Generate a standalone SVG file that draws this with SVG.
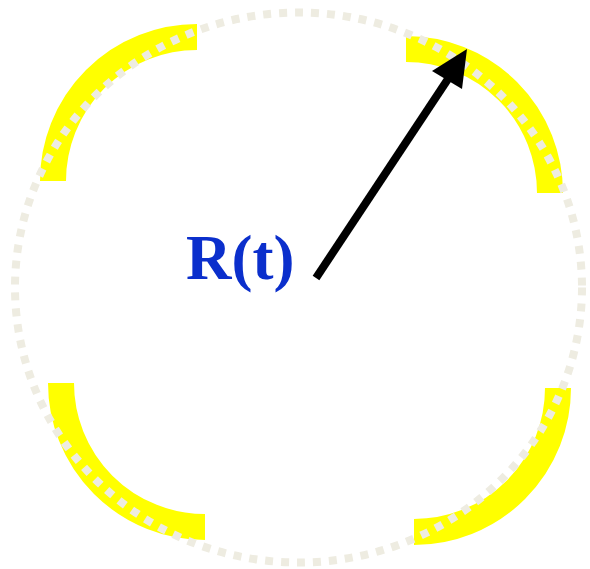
<svg xmlns="http://www.w3.org/2000/svg" width="590" height="569" viewBox="0 0 590 569">
<style>
.arc{fill:none;stroke:#FFFF00;stroke-width:26;stroke-linecap:butt}
.orbit{fill:none;stroke:#EEECE1;stroke-width:8;stroke-dasharray:8 8}
.lbl{font-family:"Liberation Serif","Times New Roman",serif;font-weight:bold;font-size:63px;fill:#0B2FCC}
</style>
<rect width="590" height="569" fill="#FFFFFF"/>
<g id="arc-top-left"><path class="arc" d="M 53 181 A 144 144 0 0 1 197 37"/></g>
<g id="arc-top-right"><path class="arc" d="M 406 49 A 144 144 0 0 1 550 193"/></g>
<g id="arc-bottom-left"><path class="arc" d="M 61 383 A 144 144 0 0 0 205 527"/></g>
<g id="arc-bottom-right"><path class="arc" d="M 558 388 A 144 144 0 0 1 414 532"/></g>
<g id="orbit"><ellipse class="orbit" cx="298.5" cy="287.5" rx="283.5" ry="275"/></g>
<g id="label"><text class="lbl" x="186" y="279">R(t)</text></g>
<g id="connectors">
<line x1="316" y1="278" x2="448" y2="79" stroke="#000000" stroke-width="8"/>
<polygon points="467,49 432,71 462,89" fill="#000000"/>
</g>
</svg>
